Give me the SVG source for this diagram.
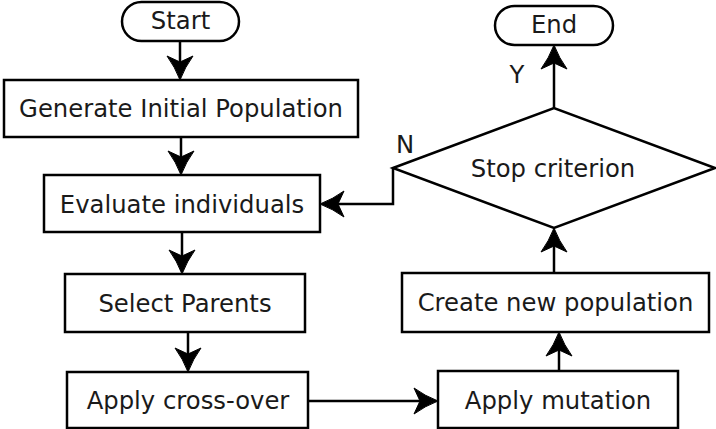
<svg xmlns="http://www.w3.org/2000/svg" width="716" height="429" viewBox="0 0 716 429">
  <style>
    .box { fill: #ffffff; stroke: #000000; stroke-width: 2.5; }
    .lbl { font-family: "DejaVu Sans", "Liberation Sans", sans-serif; font-size: 24.3px; fill: #1a1a1a; text-anchor: middle; }
    .edge { fill: none; stroke: #000000; stroke-width: 2.5; }
    .head { fill: #000000; stroke: #000000; stroke-width: 1; stroke-linejoin: miter; }
  </style>
  <defs>
    <!-- solid arrowhead pointing down with a shallow notch, tip at the origin -->
    <path id="ah" class="head" d="M0,0 Q-5,-13 -13,-24 L0,-18 L13,-24 Q5,-13 0,0 Z"/>
  </defs>
  <rect width="716" height="429" fill="#ffffff"/>

  <g id="connectors">
    <line class="edge" x1="180" y1="41" x2="180" y2="64"/>
    <use href="#ah" transform="translate(180,80)"/>
    <line class="edge" x1="181" y1="137" x2="181" y2="159"/>
    <use href="#ah" transform="translate(181,175)"/>
    <line class="edge" x1="182" y1="232" x2="182" y2="258"/>
    <use href="#ah" transform="translate(182,274)"/>
    <line class="edge" x1="188" y1="332" x2="188" y2="356"/>
    <use href="#ah" transform="translate(188,372)"/>
    <line class="edge" x1="308" y1="401" x2="422" y2="401"/>
    <use href="#ah" transform="translate(438,401) rotate(-90)"/>
    <line class="edge" x1="559" y1="371" x2="559" y2="348"/>
    <use href="#ah" transform="translate(559,332) rotate(180)"/>
    <line class="edge" x1="554" y1="273" x2="554" y2="244"/>
    <use href="#ah" transform="translate(554,228) rotate(180)"/>
    <line class="edge" x1="554" y1="108" x2="554" y2="61"/>
    <use href="#ah" transform="translate(554,45) rotate(180)"/>
    <polyline class="edge" points="393,168 393,204 336,204"/>
    <use href="#ah" transform="translate(320,204) rotate(90)"/>
    <text class="lbl" x="517" y="83">Y</text>
    <text class="lbl" x="405" y="153">N</text>
  </g>

  <g id="start">
    <rect class="box" x="122" y="2" width="117" height="39" rx="19.5" ry="19.5"/>
    <text class="lbl" x="180.5" y="29">Start</text>
  </g>

  <g id="generate">
    <rect class="box" x="4" y="80" width="354" height="57"/>
    <text class="lbl" x="181" y="117">Generate Initial Population</text>
  </g>

  <g id="evaluate">
    <rect class="box" x="44" y="175" width="276" height="57"/>
    <text class="lbl" x="182" y="213">Evaluate individuals</text>
  </g>

  <g id="select">
    <rect class="box" x="65" y="274" width="240" height="58"/>
    <text class="lbl" x="185" y="312">Select Parents</text>
  </g>

  <g id="crossover">
    <rect class="box" x="67" y="372" width="241" height="56"/>
    <text class="lbl" x="188" y="409">Apply cross-over</text>
  </g>

  <g id="mutation">
    <rect class="box" x="438" y="371" width="240" height="57"/>
    <text class="lbl" x="558" y="409">Apply mutation</text>
  </g>

  <g id="newpop">
    <rect class="box" x="402" y="273" width="307" height="59"/>
    <text class="lbl" x="555.5" y="311">Create new population</text>
  </g>

  <g id="stop">
    <polygon class="box" points="393,168 554,108 715,168 554,228"/>
    <text class="lbl" x="553" y="177">Stop criterion</text>
  </g>

  <g id="end">
    <rect class="box" x="495" y="6" width="118" height="39" rx="19.5" ry="19.5"/>
    <text class="lbl" x="554" y="33">End</text>
  </g>
</svg>
